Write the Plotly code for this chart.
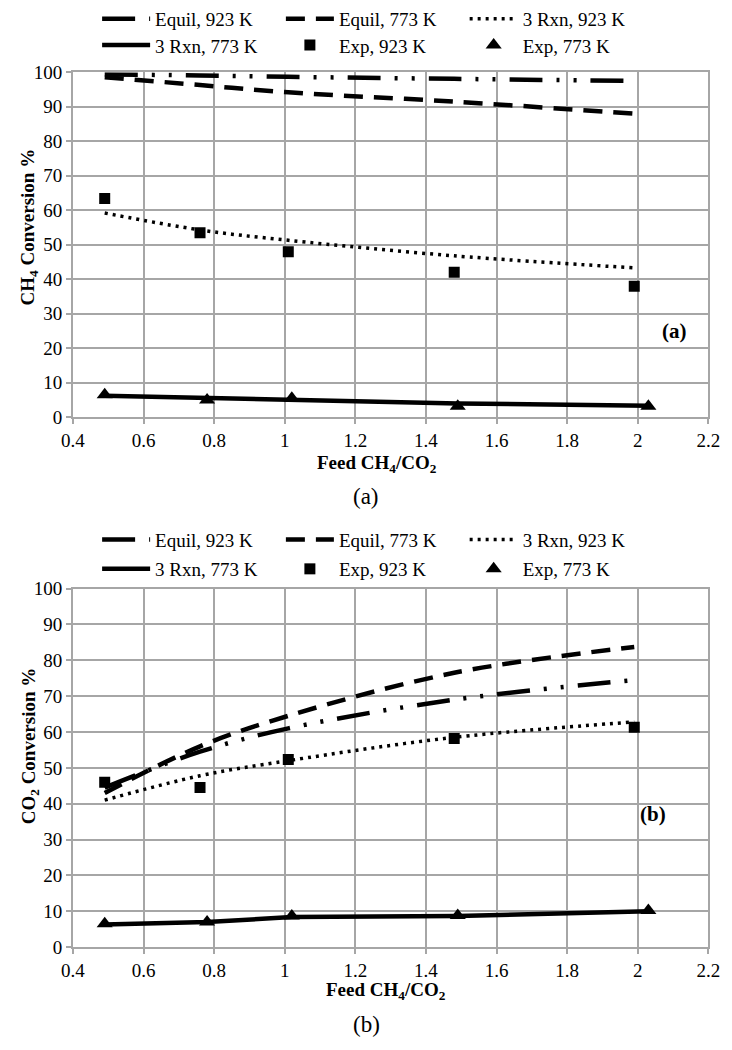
import plotly.graph_objects as go

# ---------------- data ----------------
x_model = [0.49, 0.76, 1.01, 1.48, 1.99]
x_exp923 = [0.49, 0.76, 1.01, 1.48, 1.99]
x_exp773 = [0.49, 0.78, 1.02, 1.49, 2.03]

# (a) CH4 conversion %
ch4_equil923 = [99.4, 99.1, 98.7, 98.1, 97.5]
ch4_equil773 = [98.6, 96.3, 94.2, 91.5, 88.0]
ch4_rxn923 = [59.2, 54.3, 51.3, 46.8, 43.3]
ch4_rxn773 = [6.2, 5.5, 5.2, 4.0, 3.3]
ch4_exp923 = [63.4, 53.5, 48.0, 42.0, 38.0]
ch4_exp773 = [6.5, 5.0, 5.5, 3.2, 3.2]

# (b) CO2 conversion %
co2_equil923 = [44.5, 54.5, 61.0, 69.0, 74.5]
co2_equil773 = [43.0, 56.0, 64.5, 76.5, 83.7]
co2_rxn923 = [41.0, 47.8, 52.0, 58.5, 62.8]
co2_rxn773 = [6.3, 7.0, 8.4, 8.7, 10.0]
co2_exp923 = [46.0, 44.5, 52.3, 58.2, 61.3]
co2_exp773 = [6.5, 7.0, 8.7, 8.8, 10.2]

names = ["Equil, 923 K", "Equil, 773 K", "3 Rxn, 923 K", "3 Rxn, 773 K", "Exp, 923 K", "Exp, 773 K"]

FONT = "Liberation Serif"
W, H = 732, 1050
GRID = "#a6a6a6"

DASHDOT = "33px,14px,3px,14px,3px,14px"
DASH = "19px,11px"
DOT = "3px,5px"

fig = go.Figure()


def add_set(xa, ya, legs, equil923, equil773, rxn923, rxn773, exp923, exp773):
    fig.add_trace(go.Scatter(x=x_model, y=equil923, mode="lines", name=names[0],
                             line=dict(color="black", width=4.5, dash=DASHDOT, shape="spline"),
                             xaxis=xa, yaxis=ya, legend=legs[0]))
    fig.add_trace(go.Scatter(x=x_model, y=equil773, mode="lines", name=names[1],
                             line=dict(color="black", width=4.5, dash=DASH, shape="spline"),
                             xaxis=xa, yaxis=ya, legend=legs[1]))
    fig.add_trace(go.Scatter(x=x_model, y=rxn923, mode="lines", name=names[2],
                             line=dict(color="black", width=3.5, dash=DOT, shape="spline"),
                             xaxis=xa, yaxis=ya, legend=legs[2]))
    fig.add_trace(go.Scatter(x=x_exp773, y=rxn773, mode="lines", name=names[3],
                             line=dict(color="black", width=4.5),
                             xaxis=xa, yaxis=ya, legend=legs[3]))
    fig.add_trace(go.Scatter(x=x_exp923, y=exp923, mode="markers", name=names[4],
                             marker=dict(color="black", symbol="square", size=11),
                             xaxis=xa, yaxis=ya, legend=legs[4]))
    fig.add_trace(go.Scatter(x=x_exp773, y=exp773, mode="markers", name=names[5],
                             marker=dict(color="black", symbol="triangle-up", size=14),
                             xaxis=xa, yaxis=ya, legend=legs[5]))


legs_top = ["legend", "legend2", "legend3", "legend4", "legend5", "legend6"]
legs_bot = ["legend7", "legend8", "legend9", "legend10", "legend11", "legend12"]
add_set("x", "y", legs_top, ch4_equil923, ch4_equil773, ch4_rxn923, ch4_rxn773, ch4_exp923, ch4_exp773)
add_set("x2", "y2", legs_bot, co2_equil923, co2_equil773, co2_rxn923, co2_rxn773, co2_exp923, co2_exp773)


def px(v):
    return v / W


def py(v):
    return 1 - v / H


xdom = [px(63), px(720)]
ydom1 = [py(413.7), py(60.7)]
ydom2 = [py(956), py(589)]

axis_common = dict(showline=True, linecolor=GRID, linewidth=2, mirror=True,
                   showgrid=True, gridcolor=GRID, gridwidth=1.5,
                   ticks="outside", ticklen=5, tickcolor=GRID, tickwidth=1.5,
                   tickfont=dict(family=FONT, size=19, color="black"), zeroline=False)

layout = dict(
    width=W, height=H,
    margin=dict(l=0, r=0, t=0, b=0),
    paper_bgcolor="white", plot_bgcolor="white",
    showlegend=True,
    font=dict(family=FONT, color="black"),
    xaxis=dict(domain=xdom, anchor="y", range=[0.4, 2.2], dtick=0.2, tick0=0.4, **axis_common),
    yaxis=dict(domain=ydom1, anchor="x", range=[0, 100], dtick=10, **axis_common),
    xaxis2=dict(domain=xdom, anchor="y2", range=[0.4, 2.2], dtick=0.2, tick0=0.4, **axis_common),
    yaxis2=dict(domain=ydom2, anchor="x2", range=[0, 100], dtick=10, **axis_common),
)

# legend entry positions (left of symbol, row centre) in reference pixels
col_x = [88, 278, 468]
row_y_top = [6, 33]
row_y_bot = [539, 569]
for i, name in enumerate(legs_top + legs_bot):
    k = i % 6
    rows = row_y_top if i < 6 else row_y_bot
    layout[name] = dict(x=px(col_x[k % 3]), y=py(rows[k // 3]), xanchor="left", yanchor="middle",
                        orientation="v", itemwidth=48, bgcolor="rgba(0,0,0,0)", borderwidth=0,
                        font=dict(family=FONT, size=19, color="black"))
fig.update_layout(**layout)

ann = []
ann.append(dict(text="<b>CH<sub>4</sub> Conversion %</b>", x=px(18), y=py(219), xref="paper", yref="paper",
                xanchor="center", yanchor="middle",
                textangle=-90, showarrow=False, font=dict(family=FONT, size=19)))
ann.append(dict(text="<b>CO<sub>2</sub> Conversion %</b>", x=px(18), y=py(750), xref="paper", yref="paper",
                xanchor="center", yanchor="middle",
                textangle=-90, showarrow=False, font=dict(family=FONT, size=19)))
ann.append(dict(text="<b>Feed CH<sub>4</sub>/CO<sub>2</sub></b>", x=px(377), y=py(462),
                xanchor="center", yanchor="middle",
                xref="paper", yref="paper", showarrow=False, font=dict(family=FONT, size=19)))
ann.append(dict(text="<b>Feed CH<sub>4</sub>/CO<sub>2</sub></b>", x=px(387), y=py(1001),
                xanchor="center", yanchor="middle",
                xref="paper", yref="paper", showarrow=False, font=dict(family=FONT, size=19)))
ann.append(dict(text="(a)", x=0.5, y=py(495), xref="paper", yref="paper", showarrow=False,
                xanchor="center", yanchor="middle", font=dict(family=FONT, size=23)))
ann.append(dict(text="(b)", x=0.5, y=py(1035), xref="paper", yref="paper", showarrow=False,
                xanchor="center", yanchor="middle", font=dict(family=FONT, size=23)))
ann.append(dict(text="<b>(a)</b>", x=2.104, y=25, xref="x", yref="y", showarrow=False,
                xanchor="center", yanchor="middle", font=dict(family=FONT, size=21)))
ann.append(dict(text="<b>(b)</b>", x=2.043, y=37, xref="x2", yref="y2", showarrow=False,
                xanchor="center", yanchor="middle", font=dict(family=FONT, size=21)))
fig.update_layout(annotations=ann)

fig.write_html("out.html", config={"displayModeBar": False},
               post_script="document.body.style.margin='0';document.body.style.overflow='hidden';")
